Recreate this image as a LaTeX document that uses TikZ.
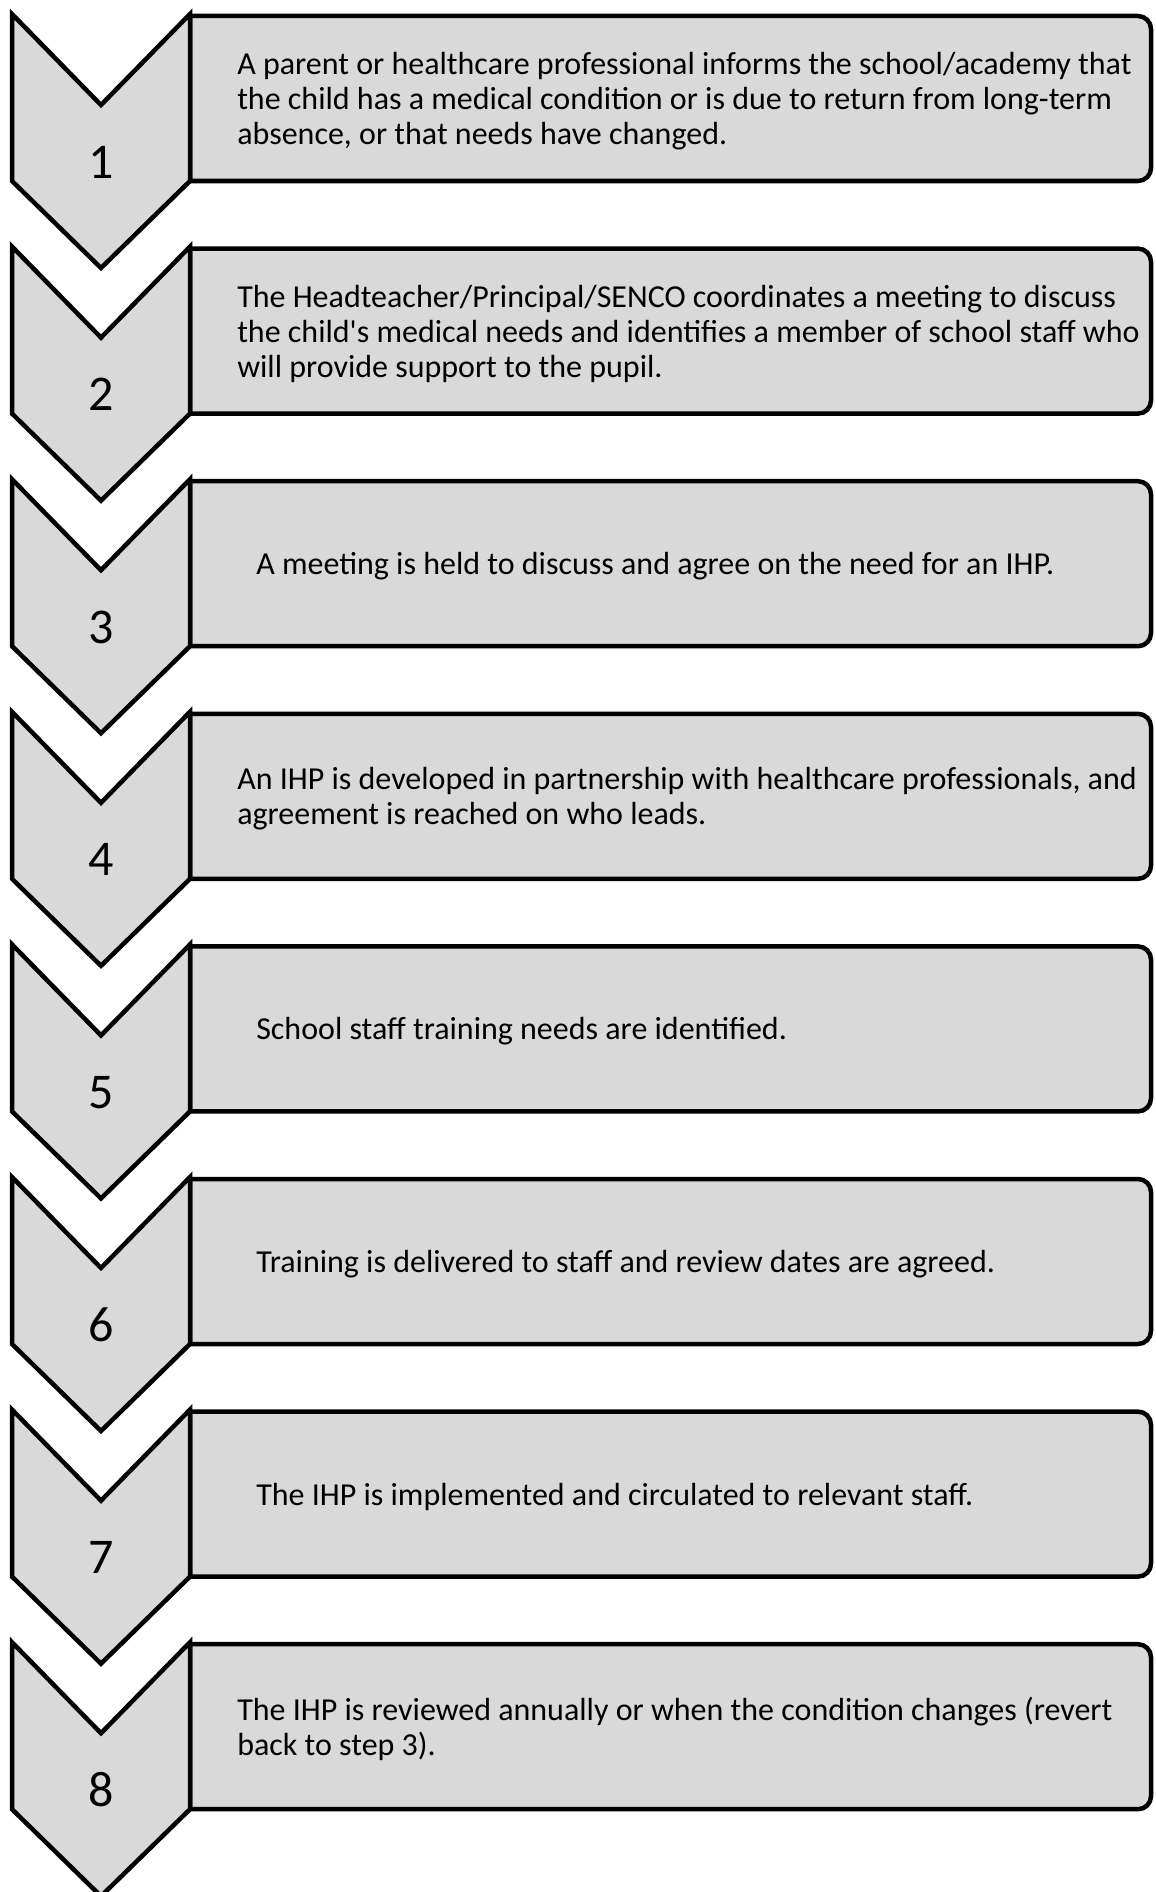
\documentclass[tikz,border=0pt]{standalone}
\usepackage{fontspec}
\setmainfont{Carlito}[Ligatures=TeXOff]
\usepackage{tikz}
\definecolor{stepgray}{RGB}{217,217,217}

\begin{document}
\begin{tikzpicture}[x=0.4pt,y=0.4pt,line width=1.8pt,line join=miter]
    \tikzstyle{step shape}=[draw=black,fill=stepgray]
    \tikzstyle{step number}=[font=\fontsize{20}{24}\selectfont,anchor=base,inner sep=0pt]
    \tikzstyle{step text}=[font=\fontsize{12.8}{14}\selectfont,align=left,anchor=west,inner sep=0pt]

    \useasboundingbox (0,0) rectangle (1155,-1892);

    % Draw the box, the chevron, the number and the text of each step
    \foreach \idx/\tx/\desc in {
        1/235/{A parent or healthcare professional informs the school/academy that\\the child has a medical condition or is due to return from long-term\\absence, or that needs have changed.},
        2/235/{The Headteacher/Principal/SENCO coordinates a meeting to discuss\\the child's medical needs and identifies a member of school staff who\\will provide support to the pupil.},
        3/254/{A meeting is held to discuss and agree on the need for an IHP.},
        4/235/{An IHP is developed in partnership with healthcare professionals, and\\agreement is reached on who leads.},
        5/254/{School staff training needs are identified.},
        6/254/{Training is delivered to staff and review dates are agreed.},
        7/254/{The IHP is implemented and circulated to relevant staff.},
        8/235/{The IHP is reviewed annually or when the condition changes (revert\\back to step 3).}}
    {
        \pgfmathsetmacro{\ytop}{-14-(\idx-1)*232.6}
        % box, square on the left and rounded on the right
        \filldraw[step shape] (190,\ytop-2) -- (1138,\ytop-2)
            arc[start angle=90,end angle=0,radius=13] -- (1151,\ytop-154)
            arc[start angle=0,end angle=-90,radius=13] -- (190,\ytop-167) -- cycle;
        % chevron pointing down
        \filldraw[step shape] (12,\ytop) -- (101,\ytop-91) -- (190,\ytop)
            -- (190,\ytop-167) -- (101,\ytop-254) -- (12,\ytop-167) -- cycle;
        \node[step number] (num-\idx) at (101,\ytop-164) {\idx};
        \node[step text] (desc-\idx) at (\tx,\ytop-87) {\desc};
    }
\end{tikzpicture}
\end{document}
